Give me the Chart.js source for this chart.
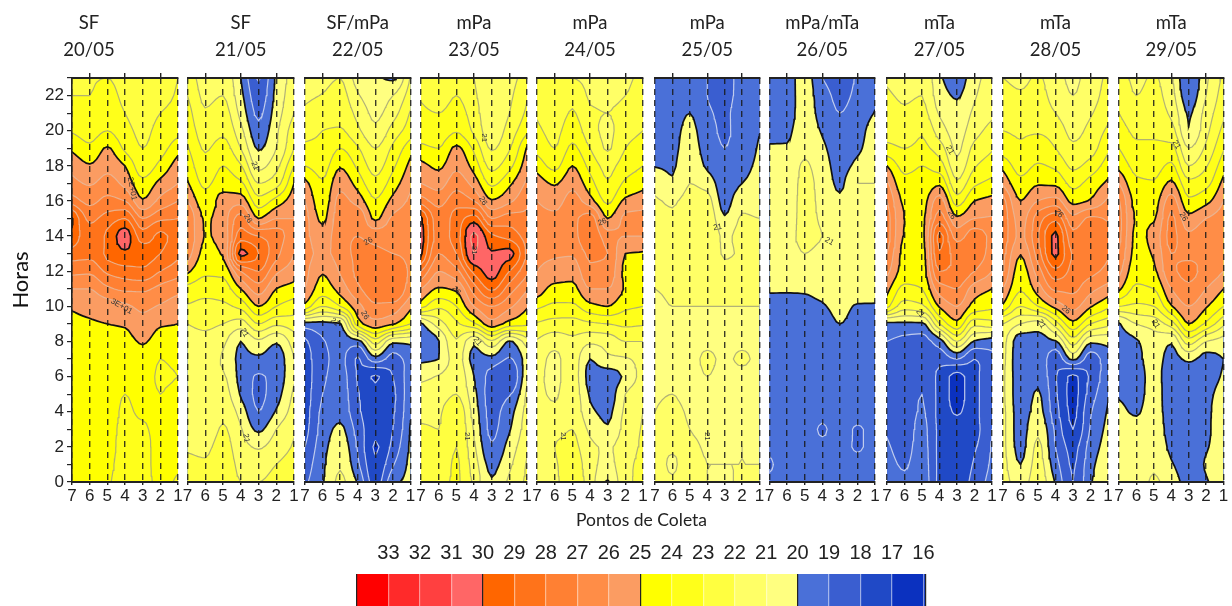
<!DOCTYPE html>
<html><head><meta charset="utf-8">
<script src="https://cdn.jsdelivr.net/npm/chart.js@4"></script>
<style>
html,body{margin:0;padding:0;background:#fff;width:1232px;height:606px;overflow:hidden}
canvas{position:absolute;display:block}
</style></head><body>
<script>
// Station labels left to right, hours 0..23 in every column
const stations=[7,6,5,4,3,2,1];
const titles=[['SF','20/05'],['SF','21/05'],['SF/mPa','22/05'],['mPa','23/05'],['mPa','24/05'],['mPa','25/05'],['mPa/mTa','26/05'],['mTa','27/05'],['mTa','28/05'],['mTa','29/05']];
const legendTicks=[33,32,31,30,29,28,27,26,25,24,23,22,21,20,19,18,17,16];
const bandFloors=[0,17,18,19,20,21,22,23,24,25,26,27,28,29,30,31,32,33];
const bandColors=['#0b31bf','#2049c6','#3a5ed0','#4a70d8','#ffff80','#ffff66','#ffff40','#ffff1a','#ffff00','#fb9c62','#ff8d47','#ff8033','#ff731a','#ff6600','#ff6666','#ff4040','#ff2a2a','#ff0000'];
const levels=[17,18,19,20,21,22,23,24,25,26,27,28,29,30,31,32];

const day20=[
[24.2,24.3,24.4,24.4,24.4,24.4,24.4,24.5,24.6,24.8,25.1,26.0,27.3,28.5,29.8,30.1,27.5,26.3,25.7,24.8,23.9,23.3,23.0,22.8],
[24.3,24.4,24.4,24.4,24.4,24.4,24.4,24.5,24.7,24.9,25.3,26.0,27.2,28.2,28.3,27.8,26.7,25.9,25.1,24.2,23.6,23.2,23.0,22.9],
[24.1,24.2,24.3,24.3,24.3,24.3,24.4,24.5,24.7,25.0,25.5,26.8,28.2,29.2,29.2,28.4,27.3,26.4,25.7,25.1,24.0,23.7,23.4,23.0],
[23.6,23.7,23.7,23.8,23.9,24.0,24.2,24.4,24.7,25.1,25.8,27.2,28.6,29.8,30.5,29.0,27.0,25.7,25.0,23.8,23.3,23.0,22.7,22.5],
[23.7,23.8,23.8,23.9,24.1,24.2,24.3,24.6,25.1,25.7,26.2,27.2,28.8,29.4,28.5,27.0,25.1,24.3,23.4,23.0,22.8,22.6,22.4,22.3],
[24.2,24.2,24.2,24.2,24.0,24.0,23.9,24.0,24.6,25.1,25.9,26.7,28.0,29.0,29.2,27.8,26.3,25.3,24.3,23.6,23.3,23.0,22.7,22.6],
[23.9,24.1,24.2,24.2,24.2,24.2,24.0,24.2,24.7,25.0,25.5,26.3,27.4,28.2,28.5,28.0,27.0,26.0,25.5,24.6,23.7,23.3,23.1,23.0]];
const day21=[
[22.5,22.2,21.9,21.6,21.2,21.1,21.2,21.4,21.7,22.0,22.9,23.7,25.2,26.5,27,27,26,25.1,24.6,24.1,23.7,23.4,23.0,22.6],
[22.3,22.1,21.8,21.4,21.1,21.0,21.2,21.4,21.7,22.2,22.7,23.4,24.2,24.7,24.95,24.9,24.4,23.8,23.3,22.9,22.5,22.1,21.8,21.6],
[23.0,22.7,22.4,22.1,21.8,21.4,21.1,20.9,21.2,22.0,22.8,23.5,24.3,25.1,25.3,25.5,25.4,24.5,24.0,23.4,22.8,22.4,22.0,21.7],
[22.0,21.7,21.4,21.1,20.6,19.9,19.7,19.8,20.0,21.5,23.3,25,27,30.3,28.5,27.5,25.6,24.2,23.1,22.0,21.3,20.7,20.3,20.0],
[22.0,21.5,20.9,19.8,19.0,18.8,18.9,19.8,20.8,23,25.0,26.5,28,29,28,25,23.4,22,20.7,19.9,19.3,18.8,18.4,17.9],
[22.4,22.0,21.5,21,20.1,19.6,19.4,19.5,20.1,22.2,24,25,26.2,27.3,27.5,26,24.4,22.6,21.7,21.0,20.8,20.5,20.3,20.2],
[22.6,22.4,22.1,21.9,21.5,21.2,20.9,21.0,21.5,22.5,23.5,24.6,25.5,26,26.3,26,25.6,25,24,23.0,22.6,22.0,21.7,21.5]];
const day22=[
[18.8,18.4,18,17.6,17.5,17.4,17.4,17.5,17.8,19.6,24.7,26,26.3,26.3,26.3,26.4,26,25.3,24,23.2,22.7,22.2,21.8,21.5],
[19.9,19.8,19.6,19.4,19.2,19.0,18.8,18.7,18.9,19.7,23,24.5,25.1,25.8,25.4,24.8,24.4,24.1,23.6,23.2,23,22.6,22.05,21.7],
[21.2,20.9,20.6,20.2,19.7,19.5,19.4,19.3,19.4,19.9,24,25.4,26.1,26.4,26.7,26.6,26.3,25.7,24.9,24,23.1,22.7,22.4,22],
[19.9,19.2,18.9,18.6,18.2,18.1,17.9,17.9,19.6,24.5,25.6,26.8,27.2,27.2,27,26.8,25.6,24.6,23.8,23.1,22.2,21.7,21.1,20.6],
[17.5,17.2,16.9,17.3,17.4,17.3,16.9,19.6,22.5,25.6,26.8,27.6,27.6,27.2,26.7,24.8,24.1,23.3,22.6,22,21.2,20.8,20.5,20.2],
[19.7,18.9,18.3,18,17.9,17.8,18,18.6,20.2,25.1,26.6,28,27.8,27,26.6,26.2,25.3,24.5,23.8,23.2,22.4,21.6,21,19.8],
[20.3,20.3,20.2,20.1,19.9,19.8,19.6,19.5,20.2,24,25.2,26.4,26.8,26.8,26.6,26.5,26.2,25.8,25.3,24.6,23.5,23.1,22.5,22.1]];
const day23=[
[22.8,22.6,22.4,22.1,21.8,21.5,20.7,19.8,19.0,19.8,24.4,26.0,28,30.2,30.5,30.2,27.5,26,25.3,24.2,23.6,23.2,22.9,22.7],
[22.8,22.6,22.3,22.0,21.9,21.6,21.1,20.0,19.95,21.5,23.2,24.9,26,27,27.6,27.5,26.6,25.6,24.8,24,23.4,23,22.5,22.3],
[23.1,23.1,23,22.9,22.7,22.0,21.7,21.5,21.9,22.8,24,25.2,26.7,28,28.5,28.4,27.6,26.6,25.8,25.2,23.9,23.4,23.0,22.6],
[21.8,21.5,21.2,20.9,20.6,20.3,20,19.7,20.2,23.8,26,27.5,29.3,31,31.2,29.5,27,25.6,24.6,23.8,22.8,22.5,22.2,22],
[20.1,19.7,19.1,18.8,18.7,18.6,18.6,19.7,21.8,25.6,27,29.2,30.4,30.1,29.2,27,25.1,23.8,22.7,21.9,21.4,21.2,21.1,21],
[21.2,20.8,20.4,19.9,19.6,18.9,18.0,18.9,19.9,24.6,26.2,27.5,29,30.3,28.6,27.5,25.8,24.8,23.7,22.9,22.4,22,21.8,21.6],
[22.2,22.1,21.8,21.6,21.4,21.2,20.9,20.5,21.5,24.2,25.1,26.1,27.2,27.8,27.6,27.2,26.8,26.2,25.6,25.1,23.8,23.2,22.9,22.5]];
const day24=[
[21.6,21.7,21.8,21.9,21.5,21.2,21.2,21.4,21.9,22.9,24.2,25.6,26,26.2,26.4,26.3,26,25.5,24.6,23.7,23.2,22.9,22.7,22.5],
[21.8,21.9,22,21.8,21.2,20.9,20.8,20.8,21.4,22.6,23.8,24.7,25.6,26.1,26.3,26.2,25.6,24.9,23.7,23.0,22.7,22.4,22.2,22.1],
[22.7,22.6,22.3,22.0,21.8,21.6,21.5,21.5,21.8,22.6,23.8,24.7,25.4,26.1,26.6,26.7,26.4,25.7,25,24.2,23.6,23.1,22.7,22],
[21.5,21.4,21.2,20.8,20.2,19.9,19.7,20.0,21.2,22.8,24.7,26,26.8,27.2,27.9,27.5,25.4,24.4,23.7,23,22.4,22.1,21.9,21.7],
[19.9,20.7,20.9,20.1,19.8,19.5,19.5,20.8,21.4,23.0,25,26,26.7,27,26.4,25,23.8,23.1,22.7,21.9,21.8,22,21.8,21.6],
[21.8,21.7,21.5,21.4,21.2,21,20.2,20.9,22,23.2,24.2,24.9,24.8,25,26,26.2,25.2,24.2,23.5,23.0,22.6,22.3,22.0,21.8],
[22.2,22.3,22.2,22.1,22,21.8,21.5,21.4,22,23.1,24,24.5,24.7,24.9,26,26.3,25.5,24.7,24,23.5,23,22.7,22.5,22.3]];
const day25=[
[21.5,21.4,21.2,21.1,21.0,20.9,20.7,20.8,20.9,20.9,20.9,21.0,21.2,21.3,21.2,21.2,21.1,20.6,19.95,19.4,19.2,19.2,19.2,19.1],
[21.1,20.9,21.1,21.3,21.2,21,20.9,20.7,20.8,20.9,21.0,21.1,21.3,21.3,21.2,21.1,20.9,20.1,19.9,19.7,19.6,19.5,19.4,19.3],
[21.6,21.4,21.2,21,20.9,20.8,20.8,20.8,20.8,20.9,21,21.2,21.5,21.7,21.8,21.6,21.3,21,20.8,20.5,20.3,20.0,19.6,19.3],
[21,21,20.9,20.8,20.8,20.8,21,21.1,20.9,20.9,21.0,21.3,21.6,21.8,21.9,21.7,21.3,20.7,19.8,19.5,19.3,19.1,19,19],
[20.9,21.0,20.9,20.8,20.8,20.7,20.8,20.9,20.8,20.9,21.0,21.1,21.2,20.9,20.8,20.1,19.6,19.3,19.1,19,18.9,18.9,18.8,18.7],
[21.1,21,21,20.9,20.9,20.8,20.8,21.1,20.9,20.9,21,21.1,21.2,21.1,21.3,21.1,20.7,20,19.7,19.5,19.4,19.4,19.3,19.3],
[21.0,21,20.9,20.9,20.8,20.8,20.8,20.8,20.8,20.9,21,21.1,21.2,21.2,21.3,21,20.6,20.3,20.2,20.1,19.97,19.8,19.6,19.4]];
const day26=[
[19.2,18.9,19.2,19.4,19.4,19.4,19.4,19.4,19.4,19.5,19.7,20.1,20.4,20.5,20.4,20.6,20.7,20.6,20.4,20.1,19.7,19.5,19.3,19.2],
[19.3,19.3,19.3,19.4,19.4,19.4,19.4,19.4,19.4,19.5,19.7,20.1,20.5,20.6,20.7,20.7,20.7,20.6,20.5,20.1,19.8,19.6,19.5,19.5],
[19.4,19.4,19.4,19.4,19.4,19.4,19.4,19.4,19.4,19.6,19.8,20.1,20.6,21,21.2,21.2,21.2,21.2,21.1,20.8,20.6,20.5,20.5,20.5],
[19.4,19.3,19.2,18.9,19.3,19.4,19.4,19.4,19.4,19.5,19.9,20.3,20.6,20.8,21,20.9,20.8,20.7,20.5,20.2,19.9,19.6,19.4,19.0],
[19.3,19.3,19.3,19.4,19.4,19.4,19.4,19.4,19.5,20.0,20.4,20.7,20.8,20.8,20.8,20.6,20.2,19.8,19.6,19.5,19.3,19,18.8,18.6],
[19.3,19.3,18.9,18.9,19.4,19.4,19.4,19.4,19.5,19.6,19.9,20.6,20.8,20.8,20.9,20.8,20.9,21,20.3,19.8,19.6,19.4,19.2,19.1],
[19.4,19.4,19.4,19.4,19.4,19.3,19.4,19.4,19.5,19.6,19.9,20.5,20.8,20.8,20.9,20.9,20.9,21,20.9,20.8,20.6,20.05,19.8,19.6]];
const day27=[
[19.5,19.3,19.1,18.9,18.6,18.6,18.7,18.8,19,19.7,24.3,25.3,26.3,27,27.5,27.5,27,26.2,25,23.3,22.6,22.3,22.1,21.9],
[19.2,18.9,18.7,18.6,18.6,18.7,18.7,18.7,18.8,19.8,22.5,23.7,24.6,24.7,24.9,25,24.8,24.3,23.7,23,22.5,22.1,21.9,21.6],
[19.6,19.5,19.4,19.3,19.1,19,18.9,18.7,18.7,19.8,22.8,24,24.5,24.6,24.7,24.8,24.6,24.3,24,23.2,22.9,22.3,22,21.9],
[17.8,17.8,17.8,17.8,17.7,17.7,17.7,18.4,19.5,23,25.1,26.5,28,28.9,29.3,27.5,26.5,24.8,23.5,22.5,21.5,20.9,20.5,20.2],
[17.6,17.5,17.5,17.4,16.9,16.7,16.7,19,22,24.7,26,27,27.7,27.6,26.6,25.2,23.5,22.2,21.3,20.8,20.6,20.3,19.9,19.4],
[18.3,18.1,17.9,17.7,17.7,17.7,17.7,18,19.9,22.3,24.6,25.5,27,27.5,27.5,26,25,23.8,22.9,22.3,21.6,21.2,20.9,20.7],
[19.5,19.2,19.1,19,18.9,18.8,18.8,18.8,19.5,22.6,24.2,25,26,26.6,26.7,26.1,25.3,24.3,23.5,22.9,22.4,21.8,21.6,21.4]];
const day28=[
[21.5,21.4,21.3,21.3,21.3,21.2,21.2,21.3,21.4,22,24.8,26,27,27.3,27.6,27.7,27.4,25.8,24.7,23.5,23,22.7,22.3,22],
[20.5,20,19.7,19.6,19.6,19.5,19.5,19.4,19.5,21,23,24.1,24.5,25.05,25.8,25.6,25,24.3,23.6,23.1,22.9,22.4,22.1,21.8],
[21.6,21.4,21.2,20.8,20.3,20.1,19.8,19.7,19.7,20.5,24,25.5,26.5,27.5,27.9,27.5,26,24.9,24.1,23.5,22.9,22.5,22.3,22.1],
[19.9,19.4,19,18.8,18.4,18.2,18.1,18.3,19.9,22.5,25.3,27.2,28.7,30.2,30.2,28.7,26.4,24.8,23.8,23,22.6,22,21.6,21.4],
[18,17.9,17.7,17,16.8,16.7,16.8,20.2,22.5,24.7,26.3,27.2,27.7,27.9,27.3,26.3,24.7,23.7,22.8,22.2,21.7,21.3,21,20.8],
[19.9,19.7,19.4,19.1,18.9,18.5,18.2,18.5,20.2,23,25.1,26.3,27.3,27.8,27.8,27.2,25.1,24.4,23.4,22.6,22.3,21.9,21.6,21.5],
[20.8,20.7,20.5,20.3,20.1,19.9,19.7,19.6,20.3,22.3,24.2,25.6,26.7,27.1,27.3,26.9,26.2,25.2,24.5,23.8,23.2,22.7,22.4,22.2]];
const day29=[
[20.5,20.4,20.3,20.3,20.2,19.9,19.6,19.5,19.6,19.9,23,25.2,26.3,26.9,27.3,27.4,27.1,26,24.7,24,23.5,23,22.7,22.5],
[20.6,20.5,20.4,20.3,19.9,19.7,19.6,19.7,19.9,21,22.8,23.8,24.4,24.7,24.8,24.9,24.7,24.2,23.7,23.2,22.8,22.3,22,21.8],
[21.1,20.9,20.7,20.6,20.5,20.4,20.4,20.5,20.6,21.4,23,24,24.8,25.1,25.3,24.9,24.6,24.1,23.6,23.2,22.8,22.5,22.3,22.1],
[20.6,20.1,19.8,19.6,19.5,19.4,19.4,19.6,20.1,22.5,24.9,26,26.8,27,27.3,27.2,26.5,25.2,24.2,23.3,22.4,21.8,21.4,21.2],
[19.6,19.5,19.5,19.4,19.4,19,19.3,20.2,22.5,25,26,26.8,27.2,26.8,26.2,25.3,24.2,23.3,22,21,20.05,19.9,19.4,19],
[19.9,20.1,19.9,19.8,19.8,19.7,19.6,19.7,21,23.8,25.1,26,26.7,26.8,26.6,26,24.7,23.7,22.9,22.2,21.7,21.4,21,20.8],
[20.9,20.8,20.7,20.7,20.6,20.4,20.1,20.0,20.6,22.2,24,25,26,26.4,26.5,26.4,26,25.3,24.6,23.9,23.3,22.8,22.5,22.2]];
const days=[day20,day21,day22,day23,day24,day25,day26,day27,day28,day29];

// Contour labels: panel, station, hour, text, angle
const contourLabels=[[0,3.6,16.7,'2E+01',80],[0,4.2,10,'3E+01',30],[1,3.2,18,'21',70],[1,3.6,15,'26',60],[1,3.8,8.5,'21',60],[1,3.7,2.5,'21',80],
[2,3.4,13.7,'26',-30],[2,3.6,9.5,'26',60],[2,5.3,9.1,'21',40],[3,3.4,19.6,'21',90],[3,3.5,16,'26',60],[3,4,13.2,'31',90],[3,5,10.9,'26',50],[3,4.4,2.6,'21',90],[3,3.8,8,'21',50],
[4,3.3,14.8,'26',-20],[4,5.5,2.6,'21',90],[5,3.4,14.5,'21',-10],[5,4,2.6,'21',90],[6,3.6,13.7,'21',30],[7,3.4,18.9,'21',60],[7,3.3,15.2,'26',60],[7,5.1,9.6,'21',50],
[8,3.8,15.3,'26',50],[8,3.4,9.8,'26',40],[8,4.8,9,'21',60],[9,3.7,19.2,'21',60],[9,3.3,15.1,'26',60],[9,4.9,9,'21',60]];

const panelLeft=[72,187.5,305,421,537,655,769.5,887,1003,1119];
const panelRight=[178,294,410.5,527,643,759.5,875,992,1108,1223.5];
const AREA_TOP=78, AREA_BOTTOM=482, SIDE=8;

function pchip(v,f){ // shape-preserving refinement between read values, for smooth contours only
  const n=v.length,d=[],m=[];
  for(let i=0;i<n-1;i++)d[i]=v[i+1]-v[i];
  m[0]=d[0];m[n-1]=d[n-2];
  for(let i=1;i<n-1;i++)m[i]=d[i-1]*d[i]<=0?0:2*d[i-1]*d[i]/(d[i-1]+d[i]);
  const o=[];
  for(let i=0;i<n-1;i++)for(let k=0;k<f;k++){
    const t=k/f,t2=t*t,t3=t2*t;
    o.push((2*t3-3*t2+1)*v[i]+(t3-2*t2+t)*m[i]+(-2*t3+3*t2)*v[i+1]+(t3-t2)*m[i+1]);
  }
  o.push(v[n-1]);return o;
}
function refine(grid){
  const FX=5,FY=3;
  const cols=grid.map(c=>pchip(c,FY));
  const ny=cols[0].length,rows=[];
  for(let j=0;j<ny;j++)rows.push(pchip(cols.map(c=>c[j]),FX));
  const nx=rows[0].length;
  const xs=[],ys=[];
  for(let i=0;i<nx;i++)xs.push(stations[0]-i/FX);
  for(let j=0;j<ny;j++)ys.push(j/FY);
  return {rows,xs,ys,nx,ny};
}
function bandData(f,t){
  const pts=[],{rows,xs,ys,nx,ny}=f;
  const gap={x:null,y:null};
  for(let j=0;j<ny-1;j++){
    let run=-1;
    const flush=(i)=>{if(run>=0){pts.push({x:xs[run],y:ys[j]},{x:xs[i],y:ys[j]},{x:xs[i],y:ys[j+1]},{x:xs[run],y:ys[j+1]},gap);run=-1;}};
    for(let i=0;i<nx-1;i++){
      const q=[[xs[i],ys[j],rows[j][i]],[xs[i+1],ys[j],rows[j][i+1]],[xs[i+1],ys[j+1],rows[j+1][i+1]],[xs[i],ys[j+1],rows[j+1][i]]];
      const c=q.filter(p=>p[2]>=t).length;
      if(c===4){if(run<0)run=i;continue;}
      flush(i);
      if(c===0)continue;
      for(let k=0;k<4;k++){
        const a=q[k],b=q[(k+1)%4];
        if(a[2]>=t)pts.push({x:a[0],y:a[1]});
        if((a[2]>=t)!==(b[2]>=t)){const u=(t-a[2])/(b[2]-a[2]);pts.push({x:a[0]+u*(b[0]-a[0]),y:a[1]+u*(b[1]-a[1])});}
      }
      pts.push(gap);
    }
    flush(nx-1);
  }
  return pts;
}
function contourData(f,t){
  const pts=[],{rows,xs,ys,nx,ny}=f,gap={x:null,y:null};
  for(let j=0;j<ny-1;j++)for(let i=0;i<nx-1;i++){
    const q=[[xs[i],ys[j],rows[j][i]],[xs[i+1],ys[j],rows[j][i+1]],[xs[i+1],ys[j+1],rows[j+1][i+1]],[xs[i],ys[j+1],rows[j+1][i]]];
    const cr=[];
    for(let k=0;k<4;k++){
      const a=q[k],b=q[(k+1)%4];
      if((a[2]>=t)!==(b[2]>=t)){const u=(t-a[2])/(b[2]-a[2]);cr.push({x:a[0]+u*(b[0]-a[0]),y:a[1]+u*(b[1]-a[1])});}
    }
    if(cr.length===2)pts.push(cr[0],cr[1],gap);
    else if(cr.length===4)pts.push(cr[0],cr[1],gap,cr[2],cr[3],gap);
  }
  return pts;
}
function levelColor(t){
  if(t===20||t===25||t===30)return '#111';
  if(t<20)return 'rgba(205,214,240,.9)';
  if(t<25)return 'rgba(170,170,120,.9)';
  return 'rgba(232,182,150,.9)';
}
const bandFillPlugin={id:'bandFill',beforeDatasetDraw(chart,args){
  const ds=chart.data.datasets[args.index];
  if(!ds.bandFill)return;
  const ctx=chart.ctx,a=chart.chartArea;
  ctx.save();ctx.beginPath();ctx.rect(a.left,a.top,a.width,a.height);ctx.clip();
  ctx.fillStyle=ds.backgroundColor;ctx.beginPath();
  let start=true;
  for(const p of args.meta.data){
    if(p.skip){ctx.closePath();start=true;continue;}
    if(start){ctx.moveTo(p.x,p.y);start=false;}else ctx.lineTo(p.x,p.y);
  }
  ctx.fill();ctx.restore();
  return false;
}};
const labelPlugin={id:'contourText',afterDatasetsDraw(chart,args,opts){
  const ctx=chart.ctx;
  for(const l of opts.items||[]){
    const px=chart.scales.x.getPixelForValue(l[1]),py=chart.scales.y.getPixelForValue(l[2]);
    ctx.save();ctx.translate(px,py);ctx.rotate(l[4]*Math.PI/180);
    ctx.font='8px "Liberation Sans"';ctx.fillStyle='#333';ctx.textAlign='center';ctx.textBaseline='middle';
    ctx.fillText(l[3],0,0);ctx.restore();
  }
}};
function addCanvas(l,t,w,h){
  const c=document.createElement('canvas');
  c.style.left=l+'px';c.style.top=t+'px';c.style.width=w+'px';c.style.height=h+'px';c.width=w;c.height=h;
  document.body.appendChild(c);return c;
}
const AXIS='#222';
days.forEach((grid,p)=>{
  const f=refine(grid);
  const first=p===0;
  const side=first?panelLeft[0]:SIDE;
  const canvasLeft=first?0:Math.floor(panelLeft[p])-side;
  const areaLeft=panelLeft[p]-canvasLeft;
  const w=Math.round(panelRight[p]-canvasLeft+areaLeft);
  const c=addCanvas(canvasLeft,0,w,AREA_BOTTOM+24);
  const datasets=[];
  bandFloors.forEach((t,i)=>{
    const data=bandData(f,t);
    if(data.length)datasets.push({type:'scatter',bandFill:true,showLine:false,pointRadius:0,data,backgroundColor:bandColors[i]});
  });
  levels.forEach(t=>{
    const data=contourData(f,t);
    if(data.length){const major=t===20||t===25||t===30;
      datasets.push({type:'scatter',showLine:true,pointRadius:0,data,borderColor:levelColor(t),borderWidth:major?1.7:1.2,borderCapStyle:'round',spanGaps:false,fill:false});}
  });
  datasets.reverse(); // Chart.js paints the first dataset last
  new Chart(c,{type:'scatter',data:{datasets},plugins:[bandFillPlugin,labelPlugin],options:{
    responsive:false,animation:false,events:[],
    layout:{padding:{left:first?0:areaLeft,right:w-(panelRight[p]-canvasLeft),top:0,bottom:0}},
    plugins:{legend:{display:false},tooltip:{enabled:false},
      contourText:{items:contourLabels.filter(l=>l[0]===p)},
      title:{display:true,text:titles[p],color:'#222',font:{family:'Lato',size:18.5,weight:'normal',lineHeight:1.46},padding:{top:10,bottom:9}}},
    scales:{
      x:{type:'linear',position:'bottom',reverse:true,min:1,max:7,
        afterFit(s){s.height=24;},
        ticks:{stepSize:1,autoSkip:false,maxRotation:0,color:'#222',padding:1,font:{family:'Liberation Sans',size:17}},
        grid:{color:'rgba(25,25,25,.85)',lineWidth:1.4,z:1,tickLength:3,tickColor:AXIS,tickBorderDash:[]},
        border:{color:AXIS,width:2,dash:[6,5],z:2}},
      top:{type:'linear',axis:'x',position:'top',reverse:true,min:1,max:7,
        afterBuildTicks(s){s.ticks=[6,4,2].map(v=>({value:v}));},
        afterFit(s){s.height=5;},
        ticks:{display:false},
        grid:{drawOnChartArea:false,tickLength:5,tickColor:AXIS,lineWidth:1.4},
        border:{color:AXIS,width:2,z:2}},
      y:{type:'linear',display:first,min:0,max:23,
        afterFit(s){s.width=first?areaLeft:0;},
        title:{display:first,text:'Horas',color:'#111',font:{family:'Lato',size:22},padding:{top:8,bottom:0}},
        ticks:{stepSize:1,autoSkip:false,color:'#222',padding:3,font:{family:'Liberation Sans',size:17},callback:v=>v%2===0?String(v):''},
        grid:{drawOnChartArea:false,tickLength:5,tickColor:AXIS,lineWidth:1.2},
        border:{color:AXIS,width:1.6,z:2}}
    }}});
});
// Colour scale
(function(){
  const c=addCanvas(0,505,1152,101);
  const datasets=legendTicks.map((v,i)=>({data:[[i===0?34:v+1,i===17?15.92:v]],backgroundColor:bandColors[17-i],borderWidth:0,barPercentage:1,categoryPercentage:1,grouped:false}));
  new Chart(c,{type:'bar',data:{labels:['escala'],datasets},options:{
    indexAxis:'y',responsive:false,animation:false,events:[],
    layout:{padding:{left:357,right:1152-926,top:0,bottom:0}},
    plugins:{legend:{display:false},tooltip:{enabled:false},
      title:{display:true,text:'Pontos de Coleta',color:'#222',font:{family:'Lato',size:17.5,weight:'normal',lineHeight:1.25},padding:{top:4,bottom:0}}},
    scales:{
      x:{type:'linear',position:'top',reverse:true,min:15.92,max:34,
        afterBuildTicks(s){s.ticks=[34,...legendTicks,15.92].map(v=>({value:v}));},
        afterFit(s){s.height=43;},
        ticks:{autoSkip:false,maxRotation:0,color:'#222',padding:8,font:{family:'Liberation Sans',size:20},callback:v=>legendTicks.includes(v)?String(v):''},
        grid:{z:1,drawTicks:false,color:ctx=>{const v=ctx.tick&&ctx.tick.value;return [30,25,20,34,15.92].includes(v)?'#222':'rgba(255,255,255,.5)';},lineWidth:1.2},
        border:{display:false}},
      y:{ticks:{display:false},grid:{display:false,drawTicks:false},border:{display:false},afterFit(s){s.width=0;}}
    }}});
})();
</script>
</body></html>
